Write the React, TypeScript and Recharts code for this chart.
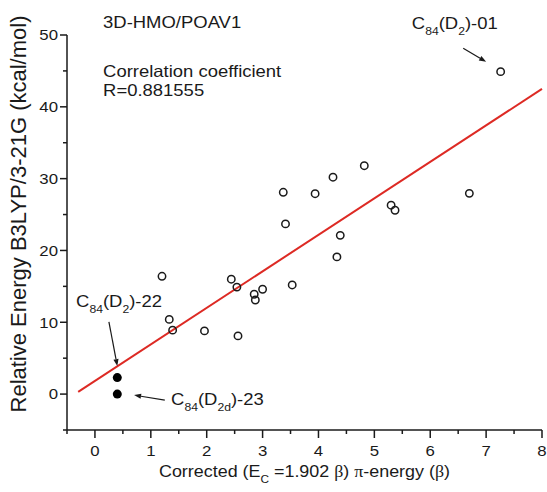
import React from "react";
import {
  ScatterChart,
  Scatter,
  XAxis,
  YAxis,
  ReferenceLine,
  ReferenceDot,
} from "recharts";

// open circles: (corrected pi-energy, relative energy)
const openPoints = [
  { x: 1.2, y: 16.4 },
  { x: 1.33, y: 10.4 },
  { x: 1.39, y: 8.9 },
  { x: 1.96, y: 8.8 },
  { x: 2.44, y: 16.0 },
  { x: 2.54, y: 14.9 },
  { x: 2.56, y: 8.1 },
  { x: 2.85, y: 13.9 },
  { x: 2.87, y: 13.1 },
  { x: 3.0, y: 14.6 },
  { x: 3.37, y: 28.1 },
  { x: 3.41, y: 23.7 },
  { x: 3.53, y: 15.2 },
  { x: 3.94, y: 27.9 },
  { x: 4.26, y: 30.2 },
  { x: 4.33, y: 19.1 },
  { x: 4.39, y: 22.1 },
  { x: 4.82, y: 31.8 },
  { x: 5.3, y: 26.3 },
  { x: 5.37, y: 25.6 },
  { x: 6.7, y: 27.95 },
  { x: 7.26, y: 44.9 },
];

// filled circles (C84(D2)-22 and C84(D2d)-23)
const filledPoints = [
  { x: 0.4, y: 2.3 },
  { x: 0.4, y: 0.0 },
];

// regression line end points
const fitLine = [
  { x: -0.3, y: 0.32 },
  { x: 8, y: 42.5 },
];

const xMajorTicks = [0, 1, 2, 3, 4, 5, 6, 7, 8];
const xMinorTicks = [-0.5, 0.5, 1.5, 2.5, 3.5, 4.5, 5.5, 6.5, 7.5];
const yMajorTicks = [0, 10, 20, 30, 40, 50];
const yMinorTicks = [-5, 5, 15, 25, 35, 45];

type Part = { t: string; sub?: boolean; serif?: boolean };

const arrows = [
  [{ x: 6.59, y: 48.15 }, { x: 7.0, y: 46.28 }],
  [{ x: 0.25, y: 10.07 }, { x: 0.4, y: 3.9 }],
  [{ x: 1.25, y: -0.84 }, { x: 0.7, y: -0.14 }],
];

const notes: { x: number; y: number; parts: Part[] }[] = [
  { x: 0.145, y: 50.93, parts: [{ t: "3D-HMO/POAV1" }] },
  { x: 0.145, y: 44.19, parts: [{ t: "Correlation coefficient" }] },
  { x: 0.145, y: 41.55, parts: [{ t: "R=0.881555" }] },
  {
    x: 5.67,
    y: 50.79,
    parts: [{ t: "C" }, { t: "84", sub: true }, { t: "(D" }, { t: "2", sub: true }, { t: ")-01" }],
  },
  {
    x: -0.338,
    y: 12.16,
    parts: [{ t: "C" }, { t: "84", sub: true }, { t: "(D" }, { t: "2", sub: true }, { t: ")-22" }],
  },
  {
    x: 1.362,
    y: -1.53,
    parts: [{ t: "C" }, { t: "84", sub: true }, { t: "(D" }, { t: "2d", sub: true }, { t: ")-23" }],
  },
];

const xTitle: Part[] = [
  { t: "Corrected (E" },
  { t: "C", sub: true },
  { t: " =1.902 " },
  { t: "β", serif: true },
  { t: ") " },
  { t: "π", serif: true },
  { t: "-energy (" },
  { t: "β", serif: true },
  { t: ")" },
];

const SANS = "'Liberation Sans', Arial, Helvetica, sans-serif";
const SERIF = "'Liberation Serif', 'Times New Roman', serif";
const INK = "#1a1a1a";
const STRETCH = 1.12;

function RichText({ x, y, parts, size, anchor = "start" }: any) {
  let shifted = false;
  const spans = parts.map((p: Part, i: number) => {
    let dy = 0;
    if (p.sub && !shifted) {
      dy = size * 0.36;
      shifted = true;
    } else if (!p.sub && shifted) {
      dy = -size * 0.36;
      shifted = false;
    }
    return (
      <tspan
        key={i}
        dy={dy}
        fontSize={p.sub ? size * 0.66 : size}
        fontFamily={p.serif ? SERIF : SANS}
      >
        {p.t}
      </tspan>
    );
  });
  return (
    <text
      transform={`translate(${x},${y}) scale(${STRETCH},1)`}
      textAnchor={anchor}
      fill={INK}
      style={{ whiteSpace: "pre" }}
    >
      {spans}
    </text>
  );
}

function XTick(props: any) {
  const { x, y, payload } = props;
  const major = xMajorTicks.includes(payload.value);
  return (
    <g>
      <line x1={x} y1={y} x2={x} y2={y + (major ? 8 : 4)} stroke={INK} strokeWidth={1.5} />
      {major && (
        <text
          transform={`translate(${x},${y + 25.7}) scale(${STRETCH},1)`}
          textAnchor="middle"
          fontSize={15}
          fontFamily={SANS}
          fill={INK}
        >
          {payload.value}
        </text>
      )}
    </g>
  );
}

function YTick(props: any) {
  const { x, y, payload } = props;
  const major = yMajorTicks.includes(payload.value);
  return (
    <g>
      <line x1={x} y1={y} x2={x - (major ? 7 : 4)} y2={y} stroke={INK} strokeWidth={1.5} />
      {major && (
        <text
          transform={`translate(${x - 9},${y + 5.3}) scale(${STRETCH},1)`}
          textAnchor="end"
          fontSize={15}
          fontFamily={SANS}
          fill={INK}
        >
          {payload.value}
        </text>
      )}
    </g>
  );
}

function Arrow(props: any) {
  const { x1, y1, x2, y2 } = props;
  const a = Math.atan2(y2 - y1, x2 - x1);
  const len = 7;
  const w = 2.6;
  const bx = x2 - len * Math.cos(a);
  const by = y2 - len * Math.sin(a);
  const px = -Math.sin(a) * w;
  const py = Math.cos(a) * w;
  return (
    <g>
      <line x1={x1} y1={y1} x2={bx} y2={by} stroke={INK} strokeWidth={1.2} />
      <polygon
        points={`${x2},${y2} ${bx + px},${by + py} ${bx - px},${by - py}`}
        fill={INK}
      />
    </g>
  );
}

const openCircle = (p: any) => (
  <circle cx={p.cx} cy={p.cy} r={3.7} fill="none" stroke={INK} strokeWidth={1.5} />
);
const filledCircle = (p: any) => <circle cx={p.cx} cy={p.cy} r={4.5} fill="#000" />;

export default function App() {
  const xTicks = [...xMajorTicks, ...xMinorTicks].sort((a, b) => a - b);
  const yTicks = [...yMajorTicks, ...yMinorTicks].sort((a, b) => a - b);

  return (
    <div style={{ position: "absolute", left: 0, top: 0, background: "#fff", fontFamily: SANS }}>
      <ScatterChart width={547} height={492} margin={{ top: 35, right: 5, bottom: 0, left: 0 }}>
        <XAxis
          type="number"
          dataKey="x"
          domain={[-0.5, 8]}
          ticks={xTicks}
          interval={0}
          height={62}
          tickSize={0}
          tickMargin={0}
          tickLine={false}
          axisLine={{ stroke: INK, strokeWidth: 1.5 }}
          tick={<XTick />}
          label={{
            content: (p: any) => (
              <RichText
                x={p.viewBox.x + p.viewBox.width / 2}
                y={p.viewBox.y + 47.3}
                parts={xTitle}
                size={16}
                anchor="middle"
              />
            ),
          }}
        />
        <YAxis
          type="number"
          dataKey="y"
          domain={[-5, 50]}
          ticks={yTicks}
          interval={0}
          width={67}
          tickSize={0}
          tickMargin={0}
          tickLine={false}
          axisLine={{ stroke: INK, strokeWidth: 1.5 }}
          tick={<YTick />}
          label={{
            content: (p: any) => (
              <text
                transform={`translate(${p.viewBox.x + 26},${p.viewBox.y + 179}) rotate(-90)`}
                textAnchor="middle"
                fontSize={22}
                fontFamily={SANS}
                fill={INK}
              >
                Relative Energy B3LYP/3-21G (kcal/mol)
              </text>
            ),
          }}
        />
        <Scatter data={openPoints} shape={openCircle} isAnimationActive={false} />
        <Scatter data={filledPoints} shape={filledCircle} isAnimationActive={false} />
        <ReferenceLine segment={fitLine} stroke="#dd2a24" strokeWidth={2} ifOverflow="visible" />
        {arrows.map((seg, i) => (
          <ReferenceLine key={`a${i}`} segment={seg} ifOverflow="visible" shape={<Arrow />} />
        ))}
        {notes.map((n, i) => (
          <ReferenceDot
            key={`n${i}`}
            x={n.x}
            y={n.y}
            r={1}
            ifOverflow="visible"
            shape={(p: any) => <RichText x={p.cx} y={p.cy} parts={n.parts} size={16.5} />}
          />
        ))}
      </ScatterChart>
    </div>
  );
}
